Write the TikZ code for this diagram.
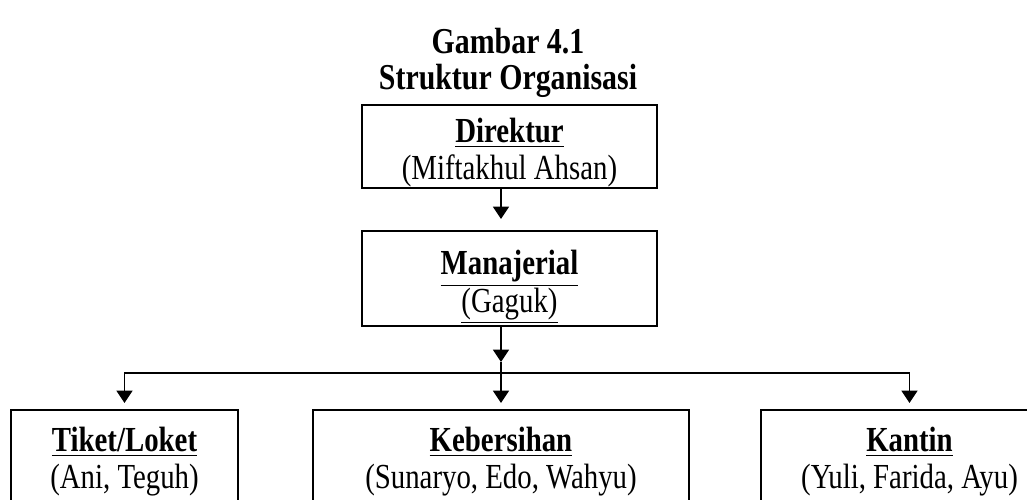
\documentclass[tikz,border=0pt]{standalone}
\usepackage{fontspec}
\setmainfont{Liberation Serif}
\usepackage{tikz}
\usetikzlibrary{arrows.meta, positioning}
\newcommand{\tall}[2][0pt]{\raisebox{-#1}[\height][\depth]{\scalebox{1}[1.22]{\begin{tabular}{@{}c@{}}#2\end{tabular}}}}
\tikzstyle{unit} = [draw=black, line width=1.1pt, align=center, inner sep=0pt,
                    font=\fontsize{16.4}{17.1}\selectfont]
\tikzstyle{link} = [line width=1.1pt]
\tikzstyle{arr} = [link, -{Triangle[length=7pt, width=9pt]}]

\begin{document}
\begin{tikzpicture}
				\clip (0, 0) rectangle (20.54, -10);
				\useasboundingbox (0, 0) rectangle (20.54, -10);

				\node (Title) [font=\fontsize{17}{16.4}\selectfont\bfseries] at (10.16, -1.28)
					{\tall{Gambar 4.1\\Struktur Organisasi}};

				% top of the structure
				\node (Dir) [unit, minimum width=5.9cm, minimum height=1.66cm] at (10.19, -2.93)
					{\tall[4pt]{\textbf{\underline{Direktur}}\\(Miftakhul Ahsan)}};
				\node (Man) [unit, minimum width=5.9cm, minimum height=1.9cm] at (10.19, -5.57)
					{\tall[4.5pt]{\textbf{\underline{Manajerial}}\\\underline{(Gaguk)}}};

				% units
				\node (Tik) [unit, anchor=north, minimum width=4.54cm, minimum height=1.9cm] at (2.49, -8.18)
					{\tall[3pt]{\textbf{\underline{Tiket/Loket}}\\(Ani, Teguh)}};
				\node (Keb) [unit, anchor=north, minimum width=7.52cm, minimum height=1.9cm] at (10.02, -8.18)
					{\tall[3pt]{\textbf{\underline{Kebersihan}}\\(Sunaryo, Edo, Wahyu)}};
				\node (Kan) [unit, anchor=north, minimum width=5.94cm, minimum height=1.9cm] at (18.19, -8.18)
					{\tall[3pt]{\textbf{\underline{Kantin}}\\(Yuli, Farida, Ayu)}};

				% branches
				\coordinate (Mid) at (10.02, -7.24);
				\coordinate (Fork) at (10.02, -7.46);
				\draw [arr, shorten >=0.22cm] (Dir.south -| Mid) -- (Man.north -| Mid);
				\draw [arr] (Man.south -| Mid) -- (Mid);
				\draw [arr, shorten >=0.12cm] (Mid) -- (Keb);
				\draw [arr, shorten >=0.12cm] (Fork) -| (Tik);
				\draw [arr, shorten >=0.12cm] (Fork) -| (Kan);
			\end{tikzpicture}
\end{document}
